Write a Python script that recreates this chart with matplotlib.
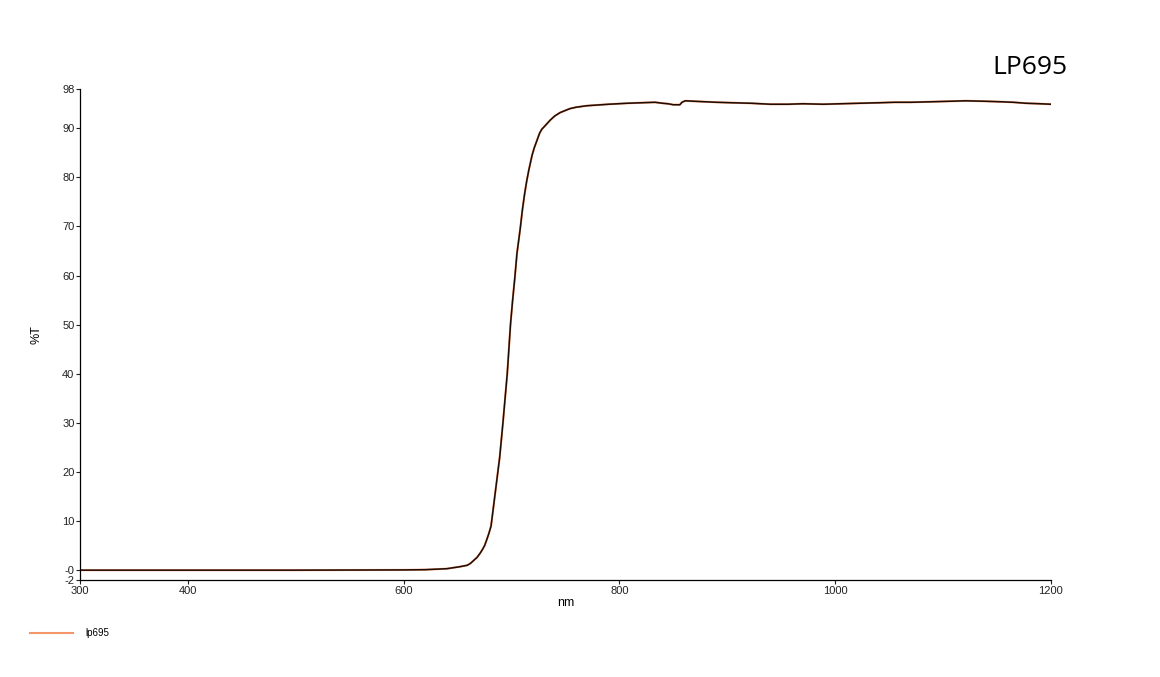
import matplotlib.pyplot as plt

# wavelength (nm) and transmission (%T)
wavelength = [300, 400, 500, 600, 620, 640, 652, 659, 662, 665, 668, 671, 673, 675,
              677, 679, 681, 683, 685, 687, 689, 692, 694, 696, 699, 701, 703, 705,
              708, 710, 712, 714, 716, 719, 721, 723, 726, 728, 731, 736, 740, 745,
              754, 760, 770, 790, 807, 820, 833, 840, 845, 850, 856, 858, 861, 870,
              880, 890, 905, 922, 940, 956, 970, 989, 1005, 1022, 1040, 1055, 1070,
              1088, 1105, 1121, 1140, 1154, 1165, 1177, 1190, 1200]
transmission = [0.0, 0.0, 0.0, 0.05, 0.1, 0.3, 0.7, 1.0, 1.4, 2.0, 2.6, 3.5, 4.2, 5.0,
                6.2, 7.5, 9.0, 12.5, 16.0, 19.5, 23.0, 30.0, 35.0, 40.0, 50.0, 55.0, 59.5, 64.5,
                69.5, 73.3, 76.5, 79.2, 81.5, 84.5, 86.0, 87.2, 89.0, 89.8, 90.5, 91.7, 92.5, 93.2,
                94.0, 94.3, 94.6, 94.9, 95.1, 95.2, 95.3, 95.1, 95.0, 94.8, 94.8, 95.3, 95.6, 95.5,
                95.4, 95.3, 95.2, 95.1, 94.9, 94.9, 95.0, 94.9, 95.0, 95.1, 95.2, 95.3, 95.3,
                95.4, 95.5, 95.6, 95.5, 95.4, 95.3, 95.1, 95.0, 94.9]

x_ticks = [300, 400, 600, 800, 1000, 1200]
y_ticks = [-2, 0, 10, 20, 30, 40, 50, 60, 70, 80, 90, 98]
y_tick_labels = ['-2', '-0', '10', '20', '30', '40', '50', '60', '70', '80', '90', '98']

plt.rcParams['font.family'] = ['Liberation Sans', 'DejaVu Sans']

fig = plt.figure(figsize=(11.6, 6.77), dpi=100)
ax = fig.add_axes([0.069, 0.1433, 0.837, 0.7252])

line_orange, = ax.plot(wavelength, transmission, color='#f4956a', linewidth=1.5, label='lp695')
ax.plot(wavelength, transmission, color='#1c0c06', linewidth=1.1)

ax.set_xlim(300, 1200)
ax.set_ylim(-2, 98)
ax.set_xticks(x_ticks)
ax.set_yticks(y_ticks)
ax.set_yticklabels(y_tick_labels)
ax.tick_params(labelsize=8, length=3, width=0.8, direction='out', pad=1, colors='#222222')

for side in ['top', 'right']:
    ax.spines[side].set_visible(False)
for side in ['left', 'bottom']:
    ax.spines[side].set_linewidth(0.9)

ax.set_xlabel('nm', fontsize=9, labelpad=1)
ax.set_ylabel('%T', fontsize=9, labelpad=14)

fig.text(0.92, 0.9, 'LP695', fontsize=19, ha='right', va='center', family='Open Sans')

fig.legend(handles=[line_orange], loc='center left', bbox_to_anchor=(0.018, 0.065),
           frameon=False, fontsize=7, handlelength=4.5, handletextpad=1.2)

plt.savefig('out.png', dpi=100)
